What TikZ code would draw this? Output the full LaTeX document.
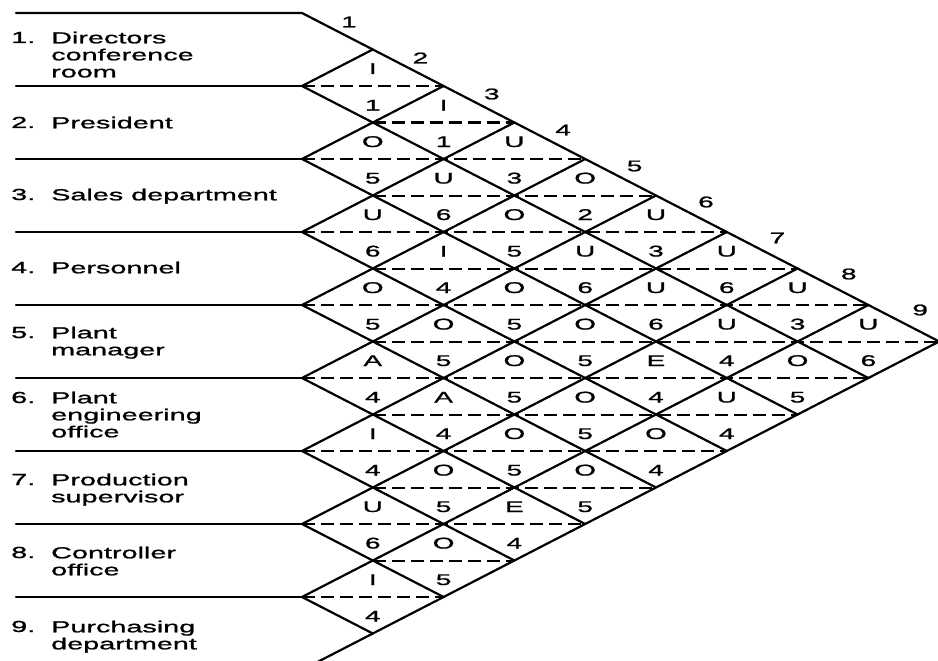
\documentclass[tikz,border=0pt]{standalone}
\usepackage{fontspec}
\newfontfamily\labfont[FakeStretch=1.8,FakeBold=1.2]{Liberation Sans}
\begin{document}
\begin{tikzpicture}[x=1pt,y=-1pt,
  solidline/.style={line width=2.2pt, line cap=round, line join=round},
  dashline/.style={line width=2pt, dash pattern=on 13pt off 6pt},
  lab/.style={font=\labfont\fontsize{16}{17}\selectfont, inner sep=0pt, align=left},
  cell/.style={font=\labfont\fontsize{15.5}{16}\selectfont, inner sep=0pt},
]
\useasboundingbox[fill=white] (0,0) rectangle (938,661);
\clip (0,0) rectangle (938,661);

% outline of the chart
\coordinate (TL) at (302,13);
\coordinate (apex) at (939.2,341.5);
\coordinate (BL) at (302,670);
\coordinate (H0) at (16,13);
\draw[solidline] (H0) -- (TL) -- (apex) -- (BL);

% row separators and diamond diagonals
\foreach \k in {1,...,8} {
  \pgfmathsetmacro\yk{13+73*\k}
  \pgfmathsetmacro\xu{302+70.8*\k}
  \pgfmathsetmacro\yu{13+36.5*\k}
  \pgfmathsetmacro\xd{302+70.8*(9-\k)}
  \pgfmathsetmacro\yd{13+73*\k+36.5*(9-\k)}
  \coordinate (L\k) at (302,\yk);
  \coordinate (H\k) at (16,\yk);
  \coordinate (U\k) at (\xu,\yu);
  \coordinate (D\k) at (\xd,\yd);
  \draw[solidline] (H\k) -- (L\k);
  \draw[solidline] (U\k) -- (L\k) -- (D\k);
}

% dashed middle lines of the diamonds
\foreach \s in {3,...,17} {
  \pgfmathsetmacro\yy{13+36.5*(\s-1)}
  \pgfmathsetmacro\dmin{mod(\s,2)==1 ? 1 : 2}
  \pgfmathsetmacro\dmax{\s<=10 ? \s-2 : 18-\s}
  \pgfmathsetmacro\xa{302+70.8*(\dmin-1)}
  \pgfmathsetmacro\xb{302+70.8*(\dmax+1)}
  \coordinate (DA\s) at (\xa,\yy);
  \coordinate (DB\s) at (\xb,\yy);
  \draw[dashline] (DA\s) -- (DB\s);
}

% diamond contents
\foreach \i/\j/\a/\n in {
  1/2/I/1, 1/3/I/1, 1/4/U/3, 1/5/O/2, 1/6/U/3, 1/7/U/6, 1/8/U/3, 1/9/U/6,
  2/3/O/5, 2/4/U/6, 2/5/O/5, 2/6/U/6, 2/7/U/6, 2/8/U/4, 2/9/O/5,
  3/4/U/6, 3/5/I/4, 3/6/O/5, 3/7/O/5, 3/8/E/4, 3/9/U/4,
  4/5/O/5, 4/6/O/5, 4/7/O/5, 4/8/O/5, 4/9/O/4,
  5/6/A/4, 5/7/A/4, 5/8/O/5, 5/9/O/5,
  6/7/I/4, 6/8/O/5, 6/9/E/4,
  7/8/U/6, 7/9/O/5,
  8/9/I/4} {
  \pgfmathsetmacro\cx{302+70.8*(\j-\i)}
  \pgfmathsetmacro\cy{13+36.5*(\i+\j-1)}
  \node[cell, anchor=base] (r\i\j) at (\cx,\cy-12) {\a};
  \node[cell, anchor=base] (n\i\j) at (\cx,\cy+24.5) {\n};
}

% column numbers along the top edge
\foreach \k in {1,...,9} {
  \node[cell] (c\k) at ({349+71.4*(\k-1)},{22+36*(\k-1)}) {\k};
}

% row labels
\foreach \k/\b/\t in {
  1/43/{Directors\\conference\\room},
  2/128/{President},
  3/200/{Sales department},
  4/273/{Personnel},
  5/338/{Plant\\manager},
  6/403/{Plant\\engineering\\office},
  7/485/{Production\\supervisor},
  8/558/{Controller\\office},
  9/632/{Purchasing\\department}} {
  \node[lab, anchor=base west] (num\k) at (11,\b) {\k.};
  \node[lab, anchor=north west] (name\k) at (51,\b-11.46) {\t};
}
\end{tikzpicture}
\end{document}
